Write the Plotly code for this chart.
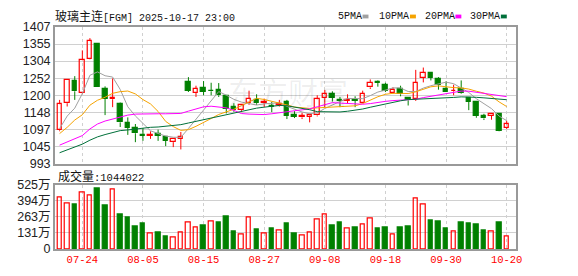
import plotly.graph_objects as go

# ---------------- data ----------------
dates = ["07-21","07-22","07-23","07-24","07-25","07-28","07-29","07-30","07-31","08-01",
         "08-04","08-05","08-06","08-07","08-08","08-11","08-12","08-13","08-14","08-15",
         "08-18","08-19","08-20","08-21","08-22","08-25","08-26","08-27","08-28","08-29",
         "09-01","09-02","09-03","09-04","09-05","09-08","09-09","09-10","09-11","09-12",
         "09-15","09-16","09-17","09-18","09-19","09-22","09-23","09-24","09-25","09-26",
         "09-29","09-30","10-09","10-10","10-13","10-14","10-15","10-16","10-17","10-20"]

opens  = [1094,1176,1243,1207,1311,1356,1219,1188,1174,1115,1102,1081,1078,1082,1075,1058,1068,1240,1208,1222,
          1213,1216,1197,1164,1155,1176,1186,1176,1168,1172,1180,1140,1133,1135,1139,1193,1203,1186,1183,1185,
          1178,1224,1240,1231,1208,1218,1193,1188,1253,1268,1251,1220,1212,1220,1193,1179,1137,1138,1144,1101]
highs  = [1186,1249,1258,1336,1373,1356,1227,1251,1178,1133,1113,1101,1091,1096,1075,1070,1089,1255,1229,1243,
          1238,1237,1197,1176,1171,1214,1203,1190,1180,1186,1186,1152,1147,1144,1200,1216,1212,1195,1203,1197,
          1214,1248,1245,1238,1224,1229,1193,1277,1284,1268,1255,1242,1232,1245,1193,1179,1144,1145,1145,1123]
lows   = [1091,1166,1186,1205,1309,1224,1140,1164,1104,1080,1058,1062,1068,1062,1046,1043,1036,1210,1195,1200,
          1200,1195,1145,1150,1149,1171,1171,1165,1149,1166,1128,1131,1128,1118,1136,1164,1181,1164,1176,1164,
          1176,1219,1226,1210,1205,1197,1169,1183,1239,1245,1217,1210,1200,1204,1155,1132,1125,1126,1091,1098]
closes = [1173,1248,1212,1306,1364,1224,1190,1192,1118,1102,1085,1077,1080,1078,1062,1068,1075,1214,1219,1211,
          1212,1200,1160,1155,1171,1190,1176,1179,1165,1175,1137,1135,1136,1139,1188,1203,1192,1184,1185,1183,
          1205,1238,1237,1214,1217,1203,1185,1237,1267,1253,1232,1210,1214,1206,1181,1137,1130,1144,1093,1112]

# volume in 万 (10k)
volumes = [417,371,366,464,433,489,351,487,282,259,182,205,125,136,105,95,133,218,172,190,
           225,213,266,143,115,256,159,125,166,149,205,128,110,133,241,279,190,220,164,174,
           202,248,166,174,118,174,182,410,364,236,228,166,141,213,205,197,151,141,220,104.4]

ma5  = [1099,1137,1161,1205,1260.6,1270.8,1259.2,1255.2,1217.6,1165.2,1137.4,1114.8,1092.4,1084.4,1076.4,1073,1072.6,1099.4,1127.6,1157.6,
        1186.2,1211.2,1200.4,1187.6,1179.4,1175.2,1170.4,1174.2,1176.2,1177,1166.4,1158.2,1149.4,1144.2,1146.8,1160,1171.4,1181.2,1190.4,1189.4,
        1189.8,1199,1209.8,1215.6,1222.4,1222,1211.4,1211.2,1221.8,1229,1234.8,1239.8,1235.2,1223,1208.6,1189.6,1173.6,1159.6,1137,1123.2]
ma10 = [1084,1103,1125,1141,1170,1185,1194,1206,1211,1212.9,1204.1,1187,1173.8,1151,1120.8,1105.2,1093.7,1095.9,1106,1117,
        1129.6,1141.9,1149.9,1157.6,1168.5,1180.7,1190.8,1187.3,1181.9,1178.2,1170.8,1164.3,1161.8,1160.2,1161.9,1163.2,1164.8,1165.3,1167.3,1168.1,
        1174.9,1185.2,1195.5,1203,1205.9,1205.9,1205.2,1210.5,1218.7,1225.7,1228.4,1225.6,1223.2,1222.4,1218.8,1212.2,1206.7,1197.4,1180,1165.9]
ma20 = [1049,1059,1068,1078,1098,1113,1122,1128,1134,1140,1143,1144,1144,1144,1144,1144,1145,1152,1159,1165,
        1166.9,1164.5,1161.9,1154.3,1144.7,1143,1142.3,1141.6,1144,1147.6,1150.2,1153.1,1155.9,1158.9,1165.2,1172,1177.8,1176.3,1174.6,1173.2,
        1172.9,1174.8,1178.7,1181.6,1183.9,1184.6,1185,1187.9,1193,1196.9,1201.7,1205.4,1209.4,1212.7,1212.4,1209.1,1206,1204,1199.4,1195.8]
ma30 = [1026,1035,1043,1052,1064,1074,1081,1088,1093,1095,1098,1100,1103,1104,1106,1108,1111,1116,1121,1127,
        1132,1138,1143,1148,1153,1157,1161,1164,1167,1169.4,1168.2,1164.4,1161.8,1156.3,1150.4,1149.7,1149.8,1149.5,1151.7,1154.4,
        1158.4,1163.8,1169.1,1173.6,1178.8,1183.3,1186.9,1187.7,1189.3,1190.7,1191.4,1191.7,1193.5,1195.2,1195.5,1193.8,1192.2,1191.1,1188.7,1186.6]

price_ticks = [993, 1044.75, 1096.5, 1148.25, 1200, 1251.75, 1303.5, 1355.25, 1407]
price_tick_labels = ["993","1045","1097","1148","1200","1252","1304","1355","1407"]
vol_ticks = [0, 131.25, 262.5, 393.75, 525]
vol_tick_labels = ["0","131万","263万","394万","525万"]
date_tick_labels = ["07-24","08-05","08-15","08-27","09-08","09-18","09-30","10-20"]

title_name = "玻璃主连"
title_code = "[FGM] 2025-10-17 23:00"
vol_label = "成交量"
last_volume = 1044022
ma_names = ["5PMA","10PMA","20PMA","30PMA"]

# ---------------- styling ----------------
W, H = 578, 276
RED = "#ff0000"
GREEN = "#008000"
MA_COLORS = ["#a0a0a0", "#f5a300", "#ff00ff", "#00703a"]
GRID = "#d0d0d0"
FRAME = "#999999"

def px(x): return x / W
def py(y): return 1 - y / H

x = list(range(len(dates)))
up = [c >= o for o, c in zip(opens, closes)]
vol_up = [True] + [closes[i] >= closes[i - 1] for i in range(1, len(closes))]
tick_idx = [dates.index(d) for d in date_tick_labels]

fig = go.Figure()

# wicks (outside bodies)
for flag, col in [(True, RED), (False, GREEN)]:
    wx, wy = [], []
    for i in x:
        if up[i] != flag:
            continue
        top = max(opens[i], closes[i]); bot = min(opens[i], closes[i])
        if highs[i] > top:
            wx += [i, i, None]; wy += [top, highs[i], None]
        if lows[i] < bot:
            wx += [i, i, None]; wy += [bot, lows[i], None]
    fig.add_trace(go.Scatter(x=wx, y=wy, mode="lines", line=dict(color=col, width=1),
                             hoverinfo="skip", showlegend=False, xaxis="x", yaxis="y"))

# bodies
for flag, col, fill in [(True, RED, "rgba(0,0,0,0)"), (False, GREEN, GREEN)]:
    bx = [i for i in x if up[i] == flag]
    base = [min(opens[i], closes[i]) for i in bx]
    hgt = [max(abs(closes[i] - opens[i]), 1.0) for i in bx]
    fig.add_trace(go.Bar(x=bx, y=hgt, base=base, width=0.6,
                         marker=dict(color=fill, line=dict(color=col, width=1.2)),
                         showlegend=False, xaxis="x", yaxis="y"))

# moving averages
for vals, col in zip([ma5, ma10, ma20, ma30], MA_COLORS):
    fig.add_trace(go.Scatter(x=x, y=vals, mode="lines", line=dict(color=col, width=1),
                             showlegend=False, hoverinfo="skip", xaxis="x", yaxis="y"))

# volume
for flag, col, fill in [(True, RED, "rgba(0,0,0,0)"), (False, GREEN, GREEN)]:
    vx = [i for i in x if vol_up[i] == flag]
    vy = [volumes[i] for i in vx]
    fig.add_trace(go.Bar(x=vx, y=vy, width=0.6,
                         marker=dict(color=fill, line=dict(color=col, width=1.2)),
                         showlegend=False, xaxis="x2", yaxis="y2"))

xdom = [px(55.5), px(522)]
xrange = [-0.63, len(dates) - 1 + 1.19]
common_x = dict(domain=xdom, range=xrange, tickvals=tick_idx, ticktext=date_tick_labels,
                showgrid=True, gridcolor=GRID, griddash="3px,3px", gridwidth=1,
                showline=True, mirror=True, linecolor=FRAME, linewidth=1.5,
                zeroline=False, ticks="", fixedrange=True)
common_y = dict(showgrid=True, gridcolor=GRID, gridwidth=1, showline=True, mirror=True,
                linecolor=FRAME, linewidth=1.5, zeroline=False, ticks="",
                tickfont=dict(family="Liberation Sans, Noto Sans CJK SC", size=12.5, color="#222"))

fig.update_layout(
    width=W, height=H, margin=dict(l=0, r=0, t=0, b=0),
    paper_bgcolor="white", plot_bgcolor="white", barmode="overlay", bargap=0,
    xaxis=dict(common_x, anchor="y", showticklabels=False),
    xaxis2=dict(common_x, anchor="y2", showticklabels=True,
                tickfont=dict(family="Liberation Mono", size=10.5, color=RED)),
    yaxis=dict(common_y, domain=[py(165), py(21)], range=[price_ticks[0], price_ticks[-1]],
               tickvals=price_ticks, ticktext=price_tick_labels, anchor="x"),
    yaxis2=dict(common_y, domain=[py(255), py(187)], range=[vol_ticks[0], vol_ticks[-1]],
                tickvals=vol_ticks, ticktext=vol_tick_labels, anchor="x2"),
)

ann = []
ann.append(dict(xref="paper", yref="paper", x=px(54), y=py(9), xanchor="left", yanchor="middle",
                showarrow=False,
                text=f"<span style='font-family:Noto Sans CJK SC;font-size:12px'>{title_name}</span>"
                     f"<span style='font-family:Liberation Mono;font-size:10px'>{title_code}</span>",
                font=dict(color="#111")))
leg_x = [340, 382, 428, 474]
sq_x = [367, 415, 461, 507]
for name, lx, sx, col in zip(ma_names, leg_x, sq_x, MA_COLORS):
    ann.append(dict(xref="paper", yref="paper", x=px(lx), y=py(9.5), xanchor="left", yanchor="middle",
                    showarrow=False, text=name,
                    font=dict(family="Liberation Mono", size=10, color="#111")))
    fig.add_shape(type="rect", xref="paper", yref="paper", x0=px(sx), x1=px(sx + 6),
                  y0=py(12), y1=py(8), fillcolor=col, line=dict(width=0))
ann.append(dict(xref="paper", yref="paper", x=px(57), y=py(177), xanchor="left", yanchor="middle",
                showarrow=False,
                text=f"<span style='font-family:Noto Sans CJK SC;font-size:12px'>{vol_label}</span>"
                     f"<span style='font-family:Liberation Mono;font-size:10.5px'>:{last_volume}</span>",
                font=dict(color="#111")))
ann.append(dict(xref="paper", yref="paper", x=px(292), y=py(88), xanchor="center", yanchor="middle",
                showarrow=False, text="东方财富",
                font=dict(family="Noto Sans CJK SC", size=30, color="rgba(0,0,0,0.07)")))
fig.update_layout(annotations=ann)

fig.write_html("out.html", config={"displayModeBar": False})
